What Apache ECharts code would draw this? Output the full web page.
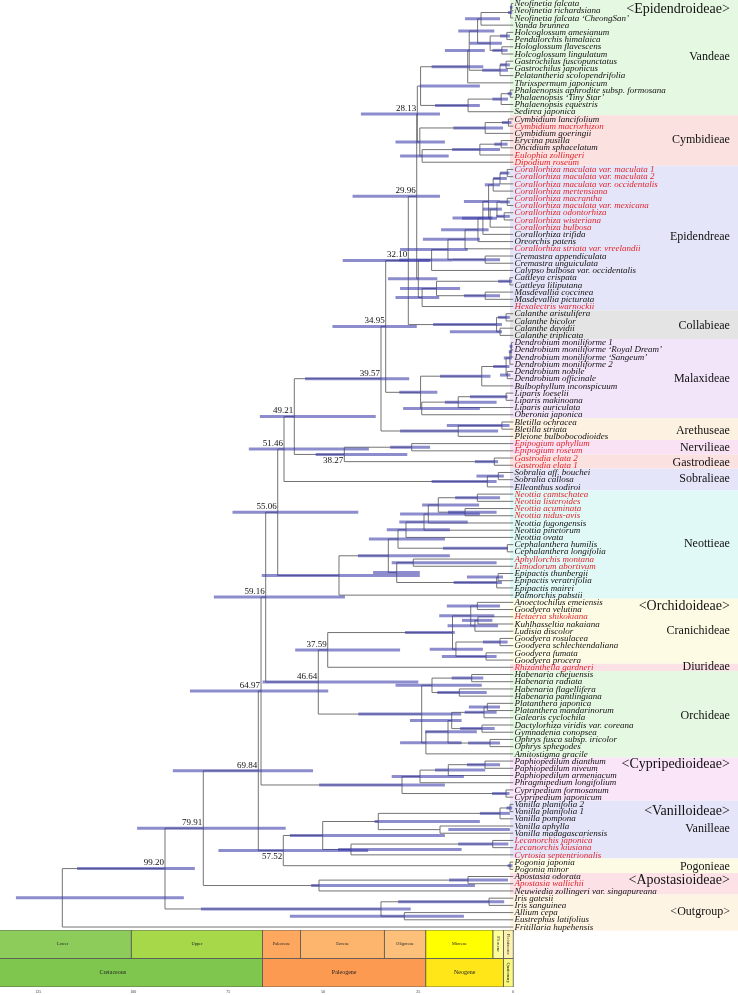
<!DOCTYPE html>
<html><head><meta charset="utf-8">
<script src="https://cdn.jsdelivr.net/npm/echarts@6/dist/echarts.min.js"></script>
<style>html,body{margin:0;padding:0;background:#fff}#c{width:738px;height:995px}</style>
</head><body><div id="c"></div>
<script>
// ---------------- DATA ----------------
const tipNames = [
 "Neofinetia falcata","Neofinetia richardsiana","Neofinetia falcata \u2018CheongSan\u2019","Vanda brunnea",
 "Holcoglossum amesianum","Pendulorchis himalaica","Hologlossum flavescens","Holcoglossum lingulatum",
 "Gastrochilus fuscopunctatus","Gastrochilus japonicus","Pelatantheria scolopendrifolia","Thrixspermum japonicum",
 "Phalaenopsis aphrodite subsp. formosana","Phalaenopsis \u2018Tiny Star\u2019","Phalaenopsis equestris","Sedirea japonica",
 "Cymbidium lancifolium","Cymbidium macrorhizon","Cymbidium goeringii","Erycina pusilla","Oncidium sphacelatum",
 "Eulophia zollingeri","Dipodium roseum",
 "Corallorhiza maculata var. maculata 1","Corallorhiza maculata var. maculata 2","Corallorhiza maculata var. occidentalis",
 "Corallorhiza mertensiana","Corallorhiza macrantha","Corallorhiza maculata var. mexicana","Corallorhiza odontorhiza",
 "Corallorhiza wisteriana","Corallorhiza bulbosa","Corallorhiza trifida","Oreorchis patens",
 "Corallorhiza striata var. vreelandii","Cremastra appendiculata","Cremastra unguiculata","Calypso bulbosa var. occidentalis",
 "Cattleya crispata","Cattleya liliputana","Masdevallia coccinea","Masdevallia picturata","Hexalectris warnockii",
 "Calanthe aristulifera","Calanthe bicolor","Calanthe davidii","Calanthe triplicata",
 "Dendrobium moniliforme 1","Dendrobium moniliforme \u2018Royal Dream\u2019","Dendrobium moniliforme \u2018Sangeum\u2019",
 "Dendrobium moniliforme 2","Dendrobium nobile","Dendrobium officinale","Bulbophyllum inconspicuum",
 "Liparis loeselii","Liparis makinoana","Liparis auriculata","Oberonia japonica",
 "Bletilla ochracea","Bletilla striata","Pleione bulbobocodioides",
 "Epipogium aphyllum","Epipogium roseum","Gastrodia elata 2","Gastrodia elata 1",
 "Sobralia aff. bouchei","Sobralia callosa","Elleanthus sodiroi",
 "Neottia camtschatea","Neottia listeroides","Neottia acuminata","Neottia nidus-avis","Neottia fugongensis",
 "Neottia pinetorum","Neottia ovata","Cephalanthera humilis","Cephalanthera longifolia","Aphyllorchis montana",
 "Limodorum abortivum","Epipactis thunbergii","Epipactis veratrifolia","Epipactis mairei","Palmorchis pabstii",
 "Anoectochilus emeiensis","Goodyera velutina","Hetaeria shikokiana","Kuhlhasseltia nakaiana","Ludisia discolor",
 "Goodyera rosulacea","Goodyera schlechtendaliana","Goodyera fumata","Goodyera procera","Rhizanthella gardneri",
 "Habenaria chejuensis","Habenaria radiata","Habenaria flagellifera","Habenaria pantlingiana",
 "Platanthera japonica","Platanthera mandarinorum","Galearis cyclochila","Dactylorhiza viridis var. coreana",
 "Gymnadenia conopsea","Ophrys fusca subsp. iricolor","Ophrys sphegodes","Amitostigma gracile",
 "Paphiopedilum dianthum","Paphiopedilum niveum","Paphiopedilum armeniacum","Phragmipedium longifolium",
 "Cypripedium formosanum","Cypripedium japonicum",
 "Vanilla planifolia 2","Vanilla planifolia 1","Vanilla pompona","Vanilla aphylla","Vanilla madagascariensis",
 "Lecanorchis japonica","Lecanorchis kiusiana","Cyrtosia septentrionalis","Pogonia japonia","Pogonia minor",
 "Apostasia odorata","Apostasia wallichii","Neuwiedia zollingeri var. singapureana",
 "Iris gatesii","Iris sanguinea","Allium cepa","Eustrephus latifolius","Fritillaria hupehensis"
];
// tips (1-based) printed in red
const redTips = [18,22,23,24,25,26,27,28,29,30,31,32,35,43,62,63,64,65,69,70,71,72,78,79,86,93,117,118,119,123];

// internal nodes: [id, childA, childB, age (Ma), HPD low (Ma), HPD high (Ma)]; numbers = tip index
const vandeaeNodes = [
 ['neo12',1,2,0.5,0.2,0.9],['neo','neo12',3,0.7,0.3,1.4],['vn','neo',4,8.5,3.5,12.7],
 ['hol56',5,6,1.7,0.9,3.5],['hol78',7,8,3.0,1.5,5.5],['hol','hol56','hol78',6.1,3.0,11.5],
 ['vnh','vn','hol',9.4,5.0,14.5],['gas',9,10,1.9,0.9,3.5],['gasp','gas',11,3.5,1.4,8.2],
 ['vnhg','vnh','gasp',11.6,7.5,18.0],['vup','vnhg',12,12.0,7.9,21.5],
 ['ph12',13,14,0.8,0.3,1.5],['ph','ph12',15,3.2,1.4,5.5],['phs','ph',16,11.9,8.8,20.6],
 ['vandeae','vup','phs',24.4,8.8,24.6]
];
const cymbidieaeNodes = [
 ['cy12',17,18,1.3,0.5,3.0],['cy','cy12',19,7.4,2.7,15.8],['eo',20,21,3.2,1.5,5.0],
 ['eoe','eo',22,8.8,3.5,16.1],['eoed','eoe',23,24.0,17.0,29.8],['cymb','cy','eoed',24.6,18.0,31.0],
 ['n28','vandeae','cymb',25.26,19.3,40.1]
];
const epidendreaeNodes = [
 ['ca12',24,25,1.6,1.0,3.5],['ca3','ca12',26,3.5,1.7,5.3],['ca','ca3',27,5.3,3.5,7.5],
 ['cb12',28,29,1.6,0.9,3.5],['cb34',30,31,2.4,0.9,4.5],['cb4','cb12','cb34',4.3,3.0,8.0],
 ['cb','cb4',32,6.1,4.3,13.5],['cab','ca','cb',6.5,3.5,13.0],['ctr','cab',33,8.0,5.5,16.0],
 ['cor','ctr',34,9.3,6.5,19.0],['cst','cor',35,12.7,8.8,23.8],['crem',36,37,7.4,3.5,16.0],
 ['cc','cst','crem',17.2,12.0,29.8],['ccc','cc',38,21.5,16.0,30.0],
 ['catt',39,40,0.9,0.3,4.0],['mas',41,42,7.4,3.5,13.0],['cm','catt','mas',20.2,14.0,29.8],
 ['cmh','cm',43,24.0,19.5,31.0],['epid','ccc','cmh',25.0,20.0,33.0],
 ['n29','n28','epid',25.42,19.3,42.3]
];
const collabieaeNodes = [
 ['cal12',44,45,1.9,0.9,4.0],['cal34',46,47,3.5,3.0,16.7],['coll','cal12','cal34',4.4,3.0,21.1],
 ['n32','n29','coll',27.63,21.9,44.9]
];
const malaxideaeNodes = [
 ['dm12',48,49,0.5,0.2,1.0],['dm3','dm12',50,0.6,0.3,1.2],['dm','dm3',51,0.9,0.4,2.5],
 ['dno',52,53,1.6,0.8,3.5],['den','dm','dno',1.9,1.0,5.3],['db','den',54,8.3,6.0,19.3],
 ['lip12',55,56,1.9,1.5,11.4],['lip3','lip12',57,14.5,4.4,18.0],['lipo','lip3',58,24.1,8.8,29.0],
 ['malax','db','lipo',24.4,20.0,30.0],['n34','n32','malax',33.58,25.4,47.6]
];
const arethuseaeNodes = [
 ['blet',59,60,3.0,1.0,17.5],['areth','blet',61,14.5,4.0,29.8],
 ['n39','n34','areth',34.82,27.4,54.8]
];
const nervGastNodes = [
 ['epi',62,63,26.74,21.9,32.4],['gas2',64,65,5.0,4.0,10.1],['n38','epi','gas2',44.47,27.9,52.0],
 ['n49','n39','n38',57.63,36.2,66.7]
];
const sobralieaeNodes = [
 ['sob',66,67,3.95,2.5,9.7],['sobr','sob',68,6.84,4.4,21.5],['n51','n49','sobr',60.34,38.0,69.6]
];
const neottieaeNodes = [
 ['ne12',69,70,9.47,3.5,15.3],['ne34',71,72,12.7,4.4,17.2],['ne4','ne12','ne34',19.74,9.0,24.0],
 ['ne5','ne4',73,22.37,8.8,29.8],['ne6','ne5',74,23.5,12.0,30.0],['neot','ne6',75,28.24,16.7,33.3],
 ['ceph',76,77,1.58,1.4,18.5],['nc','neot','ceph',30.34,18.0,38.0],['al',78,79,26.32,4.4,32.0],
 ['ep12',80,81,4.0,2.7,12.2],['ep','ep12',82,4.37,3.0,15.7],['ale','al','ep',30.68,24.6,36.9],
 ['ncale','nc','ale',32.89,16.7,40.9],['neott','ncale',83,45.87,24.6,66.2],
 ['n55','n51','neott',62.0,40.8,73.9]
];
const cranichideaeNodes = [
 ['an',84,85,9.47,3.5,17.5],['hk',86,87,9.3,5.5,13.5],['hkl','hk',88,10.1,4.0,17.3],
 ['ank','an','hkl',11.2,5.0,19.5],['gr',89,90,3.5,1.5,8.0],['gf',91,92,7.18,4.4,18.8],
 ['goo','gr','gf',15.1,8.0,22.0],['cran','ank','goo',16.0,15.4,28.5],
 ['n37','cran',93,48.84,29.8,57.4]
];
const orchideaeNodes = [
 ['hab12',94,95,10.95,7.9,16.2],['hab34',96,97,14.21,7.0,20.0],['hab','hab12','hab34',21.4,8.3,31.0],
 ['pl',98,99,6.84,3.5,11.7],['plg','pl',100,7.71,4.4,12.8],['dg',101,102,8.24,4.9,14.0],
 ['pgdg','plg','dg',16.21,13.6,27.2],['oph',103,104,6.13,3.5,11.9],['po','pgdg','oph',17.18,9.6,23.2],
 ['rest','po',105,23.0,13.6,29.8],['orch','hab','rest',24.11,13.7,40.8],
 ['n46','n37','orch',51.32,25.0,66.0],['n59','n55','n46',65.16,44.3,78.8]
];
const cypripedioideaeNodes = [
 ['pa12',106,107,7.45,3.5,12.2],['pa3','pa12',108,17.11,7.4,20.6],['pap','pa3',109,24.55,13.0,32.0],
 ['cyp',110,111,1.92,1.0,5.6],['cypr','pap','cyp',29.29,18.0,51.1],
 ['n64','n59','cypr',66.39,48.7,85.1]
];
const vanilloideaeNodes = [
 ['vp',112,113,0.87,0.3,1.8],['vpp','vp',114,3.5,0.9,8.8],['va',115,116,19.29,0.9,17.1],
 ['van','vpp','va',35.53,8.8,36.5],['lec',117,118,5.42,1.3,14.5],['lc','lec',119,42.71,13.6,46.1],
 ['vlc','van','lc',50.16,18.0,58.8],['pog',120,121,0.87,0.2,1.5],
 ['n57','vlc','pog',60.53,38.2,77.6],['n69','n64','n57',67.11,52.7,89.6]
];
const basalNodes = [
 ['apo',122,123,11.92,1.4,16.9],['apos','apo',124,51.13,10.1,53.2],['n79','n69','apos',81.58,59.9,99.0],
 ['iris',125,126,6.39,2.4,30.3],['ae',127,128,28.68,13.0,58.8],['out','iris','ae',34.82,27.0,82.2],
 ['n99','n79','out',91.66,83.8,114.8],['root','n99',129,118.68,86.7,130.9]
];

// node annotations: [node id, text, 0 = above / 1 = below]
const nodeLabels = [
 ['n99','99.20',0],['n79','79.91',0],['n69','69.84',0],['n64','64.97',0],['n59','59.16',0],
 ['n57','57.52',1],['n55','55.06',0],['n51','51.46',0],['n49','49.21',0],['n46','46.64',0],
 ['n37','37.59',0],['n39','39.57',0],['n38','38.27',1],['n34','34.95',0],['n32','32.10',0],
 ['n29','29.96',0],['n28','28.13',0]
];

// coloured clade bands: [first tip, last tip]
const bandTips = [[1,16],[17,23],[24,43],[44,47],[48,58],[59,61],[62,63],[64,65],[66,68],[69,83],
 [84,92],[93,93],[94,105],[106,111],[112,119],[120,121],[122,124],[125,129]];
const bandColors = ['#E5F8E1','#FCE1E1','#E5E5F9','#E4E4E4','#F2E5FA','#FDF1E2','#F9E2F4','#FCE1E1',
 '#E5E5F9','#E1F9F6','#FEFBE5','#FCE1E6','#E5F8E1','#FAE4F8','#E5E5F9','#FEFBE5','#FCE1E6','#FEF4E4'];
// clade names: [text, tip position, font size]
const bandLabels = [
 ['<Epidendroideae>',1.76,14],['Vandeae',8.41,12],['Cymbidieae',19.92,12],['Epidendreae',33.36,12],
 ['Collabieae',45.7,12],['Malaxideae',53.04,12],['Arethuseae',60.2,12],['Nervilieae',62.6,12],
 ['Gastrodieae',64.6,12],['Sobralieae',66.9,12],['Neottieae',75.96,12],['<Orchidoideae>',84.6,14],
 ['Cranichideae',87.9,12],['Diurideae',92.9,12],['Orchideae',99.75,12],['<Cypripedioideae>',106.4,14],
 ['<Vanilloideae>',113.0,14],['Vanilleae',115.4,12],['Pogonieae',120.6,12],['<Apostasioideae>',122.5,14],
 ['<Outgroup>',126.96,12]
];

// geological time scale (Ma)
const epochNames = ['Lower','Upper','Paleocene','Eocene','Oligocene','Miocene','Pliocene','Pleistocene'];
const epochStart = [145,100.5,66,56,33.9,23.03,5.333,2.58];
const epochEnd = [100.5,66,56,33.9,23.03,5.333,2.58,0];
const epochLabelAt = [118.6,83.25,61,44.95,28.47,14.18,3.96,1.29];
const epochColors = ['#8DCC5B','#A6D84A','#FDA75F','#FDB46C','#FDC07A','#FFFF00','#FFFF99','#FFF2AE'];
const periodNames = ['Cretaceous','Paleogene','Neogene','Quaternary'];
const periodStart = [145,66,23.03,2.58];
const periodEnd = [66,23.03,2.58,0];
const periodLabelAt = [105.4,44.5,12.8,1.29];
const periodColors = ['#7FC64E','#FD9A52','#FFE619','#F9F97F'];
const timeTicks = [0,5,10,15,20,25,30,35,40,45,50,55,60,65,70,75,80,85,90,95,100,105,110,115,120,125,130,135];
const timeTickLabels = [0,25,50,75,100,125];

// ---------------- LAYOUT ----------------
const AGE_LEFT = 135.08, AGE_RIGHT = -59.13, BAND_START = 0.87, LABEL_RIGHT = -57.0;
const allNodes = [].concat(vandeaeNodes,cymbidieaeNodes,epidendreaeNodes,collabieaeNodes,malaxideaeNodes,
 arethuseaeNodes,nervGastNodes,sobralieaeNodes,neottieaeNodes,cranichideaeNodes,orchideaeNodes,
 cypripedioideaeNodes,vanilloideaeNodes,basalNodes);
const nodeMap = {};
allNodes.forEach(r => { nodeMap[r[0]] = r; });
const yCache = {};
function nodeY(ref){
  if (typeof ref === 'number') return ref;
  if (yCache[ref] === undefined){ const r = nodeMap[ref]; yCache[ref] = (nodeY(r[1]) + nodeY(r[2])) / 2; }
  return yCache[ref];
}
function nodeAge(ref){ return typeof ref === 'number' ? 0 : nodeMap[ref][3]; }
const branchData = [];
allNodes.forEach(r => { [r[1], r[2]].forEach(c => branchData.push([r[3], nodeY(r[0]), nodeAge(c), nodeY(c)])); });
const hpdData = allNodes.map(r => [r[4], r[5], nodeY(r[0])]);
const tipData = tipNames.map((n, i) => [0, i + 1]);
const nodeLabelData = nodeLabels.map(l => [nodeMap[l[0]][3], nodeY(l[0])]);
const redSet = new Set(redTips);
const SERIF = '"Liberation Serif","Times New Roman",serif';

function textEl(x, y, text, opt){
  return { type:'text', x:x, y:y, rotation: opt.rotation || 0,
    style:{ text:text, fill: opt.fill || '#111', fontSize: opt.size, fontFamily: SERIF,
      fontStyle: opt.italic ? 'italic' : 'normal', align: opt.align || 'left', verticalAlign:'middle' } };
}

const chart = echarts.init(document.getElementById('c'), null, {renderer:'canvas'});
chart.setOption({
  animation:false,
  backgroundColor:'#ffffff',
  grid:[
    {left:0, right:0, top:0, bottom:0, containLabel:false},
    {left:0, right:224.7, top:930, bottom:8, containLabel:false}
  ],
  xAxis:[
    {type:'value', gridIndex:0, min:AGE_RIGHT, max:AGE_LEFT, inverse:true, show:false},
    {type:'value', gridIndex:1, min:0, max:AGE_LEFT, inverse:true, position:'bottom', interval:5,
     axisLine:{show:true, lineStyle:{color:'#444', width:1}},
     axisTick:{show:true, length:2, inside:false, customValues:timeTicks, lineStyle:{color:'#444', width:0.8}},
     axisLabel:{show:true, customValues:timeTickLabels, fontSize:4, color:'#333', margin:3, fontFamily:SERIF,
       formatter: v => (v % 25 === 0 ? String(v) : '')},
     splitLine:{show:false}}
  ],
  yAxis:[
    {type:'value', gridIndex:0, min:0.5149, max:138.422, inverse:true, show:false},
    {type:'value', gridIndex:1, min:0, max:2, inverse:true, show:false}
  ],
  series:[
    { // clade bands
      type:'custom', xAxisIndex:0, yAxisIndex:0, clip:false, z:1, silent:true,
      data: bandTips.map(b => [b[0], b[1]]),
      renderItem:(params, api) => {
        const b = bandTips[params.dataIndex];
        const p0 = api.coord([BAND_START, b[0] - 0.5]);
        const p1 = api.coord([AGE_RIGHT, b[1] + 0.5]);
        return {type:'rect', shape:{x:p0[0], y:p0[1], width:p1[0]-p0[0], height:p1[1]-p0[1]},
          style:{fill: bandColors[params.dataIndex]}};
      }
    },
    { // clade labels
      type:'custom', xAxisIndex:0, yAxisIndex:0, clip:false, z:5, silent:true,
      data: bandLabels.map(l => [LABEL_RIGHT, l[1]]),
      renderItem:(params, api) => {
        const l = bandLabels[params.dataIndex];
        const p = api.coord([LABEL_RIGHT, l[1]]);
        return textEl(p[0], p[1], l[0], {size:l[2], align:'right', fill:'#111'});
      }
    },
    { // branches
      type:'custom', xAxisIndex:0, yAxisIndex:0, clip:false, z:2, silent:true,
      data: branchData,
      renderItem:(params, api) => {
        const d = branchData[params.dataIndex];
        const a = api.coord([d[0], d[1]]), b = api.coord([d[0], d[3]]), c = api.coord([d[2], d[3]]);
        return {type:'polyline', shape:{points:[a,b,c]}, style:{stroke:'#737373', lineWidth:1, fill:null}};
      }
    },
    { // 95% HPD bars
      type:'custom', xAxisIndex:0, yAxisIndex:0, clip:false, z:3, silent:true,
      data: hpdData,
      renderItem:(params, api) => {
        const d = hpdData[params.dataIndex];
        const a = api.coord([d[1], d[2]]), b = api.coord([d[0], d[2]]);
        return {type:'rect', shape:{x:a[0], y:a[1]-1.5, width:b[0]-a[0], height:3},
          style:{fill:'rgba(58,58,168,0.58)'}};
      }
    },
    { // tip labels
      type:'custom', xAxisIndex:0, yAxisIndex:0, clip:false, z:4, silent:true,
      data: tipData,
      renderItem:(params, api) => {
        const i = params.dataIndex;
        const p = api.coord([0, i + 1]);
        return textEl(p[0] + 1.2, p[1] + 0.3, tipNames[i],
          {size:9, italic:true, fill: redSet.has(i + 1) ? '#E3242B' : '#111'});
      }
    },
    { // node age annotations
      type:'custom', xAxisIndex:0, yAxisIndex:0, clip:false, z:4, silent:true,
      data: nodeLabelData,
      renderItem:(params, api) => {
        const l = nodeLabels[params.dataIndex], d = nodeLabelData[params.dataIndex];
        const p = api.coord([d[0], d[1]]);
        return textEl(p[0] - 1, p[1] + (l[2] ? 6.5 : -5.5), l[1], {size:9, align:'right', fill:'#111'});
      }
    },
    { // epochs row
      type:'custom', xAxisIndex:1, yAxisIndex:1, clip:true, z:2, silent:true,
      data: epochNames.map((n, i) => [epochStart[i], epochEnd[i]]),
      renderItem:(params, api) => {
        const i = params.dataIndex;
        const p0 = api.coord([epochStart[i], 0]), p1 = api.coord([epochEnd[i], 1]);
        const lp = api.coord([epochLabelAt[i], 0.5]);
        const vertical = epochNames[i] === 'Pliocene' || epochNames[i] === 'Pleistocene';
        return {type:'group', children:[
          {type:'rect', shape:{x:p0[0], y:p0[1], width:p1[0]-p0[0], height:p1[1]-p0[1]},
            style:{fill:epochColors[i], stroke:'#555', lineWidth:0.8}},
          textEl(lp[0], lp[1], epochNames[i], {size: vertical ? 4.6 : 4.3, align:'center',
            rotation: vertical ? -Math.PI/2 : 0, fill:'#222'})
        ]};
      }
    },
    { // periods row
      type:'custom', xAxisIndex:1, yAxisIndex:1, clip:true, z:2, silent:true,
      data: periodNames.map((n, i) => [periodStart[i], periodEnd[i]]),
      renderItem:(params, api) => {
        const i = params.dataIndex;
        const p0 = api.coord([periodStart[i], 1]), p1 = api.coord([periodEnd[i], 2]);
        const lp = api.coord([periodLabelAt[i], 1.5]);
        const vertical = periodNames[i] === 'Quaternary';
        return {type:'group', children:[
          {type:'rect', shape:{x:p0[0], y:p0[1], width:p1[0]-p0[0], height:p1[1]-p0[1]},
            style:{fill:periodColors[i], stroke:'#555', lineWidth:0.8}},
          textEl(lp[0], lp[1], periodNames[i], {size: vertical ? 4.6 : 6, align:'center',
            rotation: vertical ? -Math.PI/2 : 0, fill:'#222'})
        ]};
      }
    }
  ]
});
</script>
</body></html>
